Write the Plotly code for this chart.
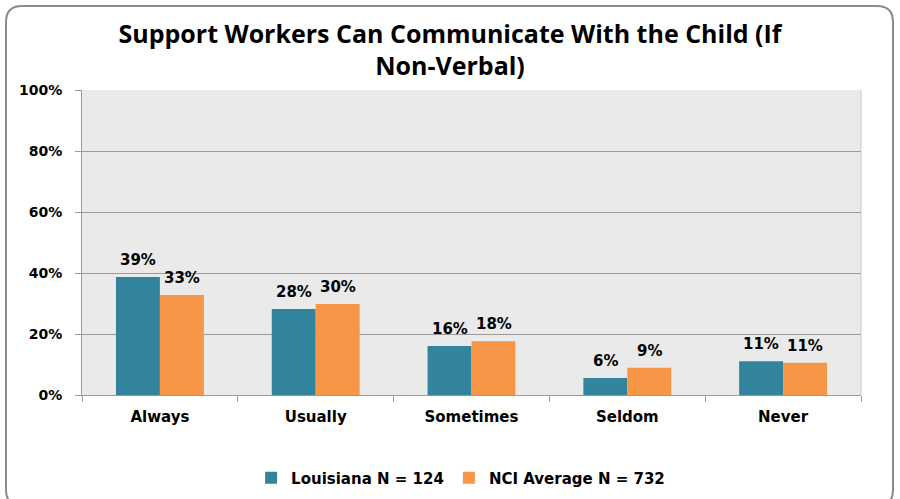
import plotly.graph_objects as go

categories = ["Always", "Usually", "Sometimes", "Seldom", "Never"]
louisiana = [38.7, 28.2, 16.1, 5.6, 11.1]
nci_average = [32.8, 29.8, 17.6, 8.9, 10.6]
series_names = ["Louisiana N = 124", "NCI Average N = 732"]
y_ticks = [0, 20, 40, 60, 80, 100]

TEAL = "#31849B"
ORANGE = "#F79646"
LABEL_FONT = dict(family="DejaVu Sans", size=15, color="#000000")

W, H = 900, 499
ML, MR, MT, MB = 82, 39, 90, 104
BAR_HALF = 22  # pixel offset of each bar centre from its category centre

fig = go.Figure()
for name, vals, col in [(series_names[0], louisiana, TEAL), (series_names[1], nci_average, ORANGE)]:
    fig.add_trace(go.Bar(
        x=categories, y=vals, name=f"<b>{name}</b>",
        marker=dict(color=col, line=dict(width=0)),
    ))

# value labels above each bar
for vals, shift in [(louisiana, -BAR_HALF), (nci_average, BAR_HALF)]:
    for cat, v in zip(categories, vals):
        fig.add_annotation(x=cat, y=v, text=f"<b>{v:.0f}%</b>", showarrow=False,
                           xanchor="center", yanchor="bottom", xshift=shift, yshift=6,
                           font=LABEL_FONT)

# rounded outer frame, expressed in paper coordinates
pw, ph = W - ML - MR, H - MT - MB
def px(x): return (x - ML) / pw
def py(y): return (H - MB - y) / ph
x0, x1, y0, y1, r = 6, 893, 6, 506, 16
path = (f"M {px(x0 + r)},{py(y0)} L {px(x1 - r)},{py(y0)} "
        f"Q {px(x1)},{py(y0)} {px(x1)},{py(y0 + r)} L {px(x1)},{py(y1 - r)} "
        f"Q {px(x1)},{py(y1)} {px(x1 - r)},{py(y1)} L {px(x0 + r)},{py(y1)} "
        f"Q {px(x0)},{py(y1)} {px(x0)},{py(y1 - r)} L {px(x0)},{py(y0 + r)} "
        f"Q {px(x0)},{py(y0)} {px(x0 + r)},{py(y0)} Z")
fig.add_shape(type="path", path=path, xref="paper", yref="paper",
              line=dict(color="#8C8C8C", width=2), layer="above")

fig.update_layout(
    width=W, height=H,
    margin=dict(l=ML, r=MR, t=MT, b=MB, autoexpand=False),
    paper_bgcolor="white", plot_bgcolor="#EAEAEA",
    barmode="group", bargap=0.436, bargroupgap=0,
    title=dict(
        text="<b>Support Workers Can Communicate With the Child (If<br>Non-Verbal)</b>",
        x=0.5, xanchor="center", y=0.914, yanchor="middle",
        font=dict(family="Open Sans", size=25, color="#000000"),
    ),
    showlegend=True,
    legend=dict(orientation="h", x=0.486, xanchor="center", y=-0.272, yanchor="middle",
                font=dict(family="DejaVu Sans", size=15, color="#000000"),
                itemwidth=30, traceorder="normal", itemsizing="constant"),
    xaxis=dict(
        tickfont=dict(family="DejaVu Sans", size=15, color="#000000"),
        showline=True, linecolor="#9A9A9A", linewidth=1,
        ticks="outside", ticklen=6, tickcolor="#9A9A9A",
        tickson="boundaries", showgrid=False, ticklabelstandoff=8,
        tickvals=categories, ticktext=[f"<b>{c}</b>" for c in categories],
        automargin=False,
    ),
    yaxis=dict(
        range=[0, 100], tickvals=y_ticks,
        ticktext=[f"<b>{v}%</b>" for v in y_ticks],
        tickfont=dict(family="DejaVu Sans", size=14, color="#000000"),
        showline=True, linecolor="#9A9A9A", linewidth=1,
        ticks="outside", ticklen=6, tickcolor="#9A9A9A",
        showgrid=True, gridcolor="#9A9A9A", gridwidth=1,
        zeroline=False, ticklabelstandoff=10, automargin=False,
    ),
)
fig.add_shape(type="line", xref="paper", yref="paper", x0=1, x1=1, y0=0, y1=1,
              line=dict(color="#C8C8C8", width=1))

fig.write_html("out.html")
